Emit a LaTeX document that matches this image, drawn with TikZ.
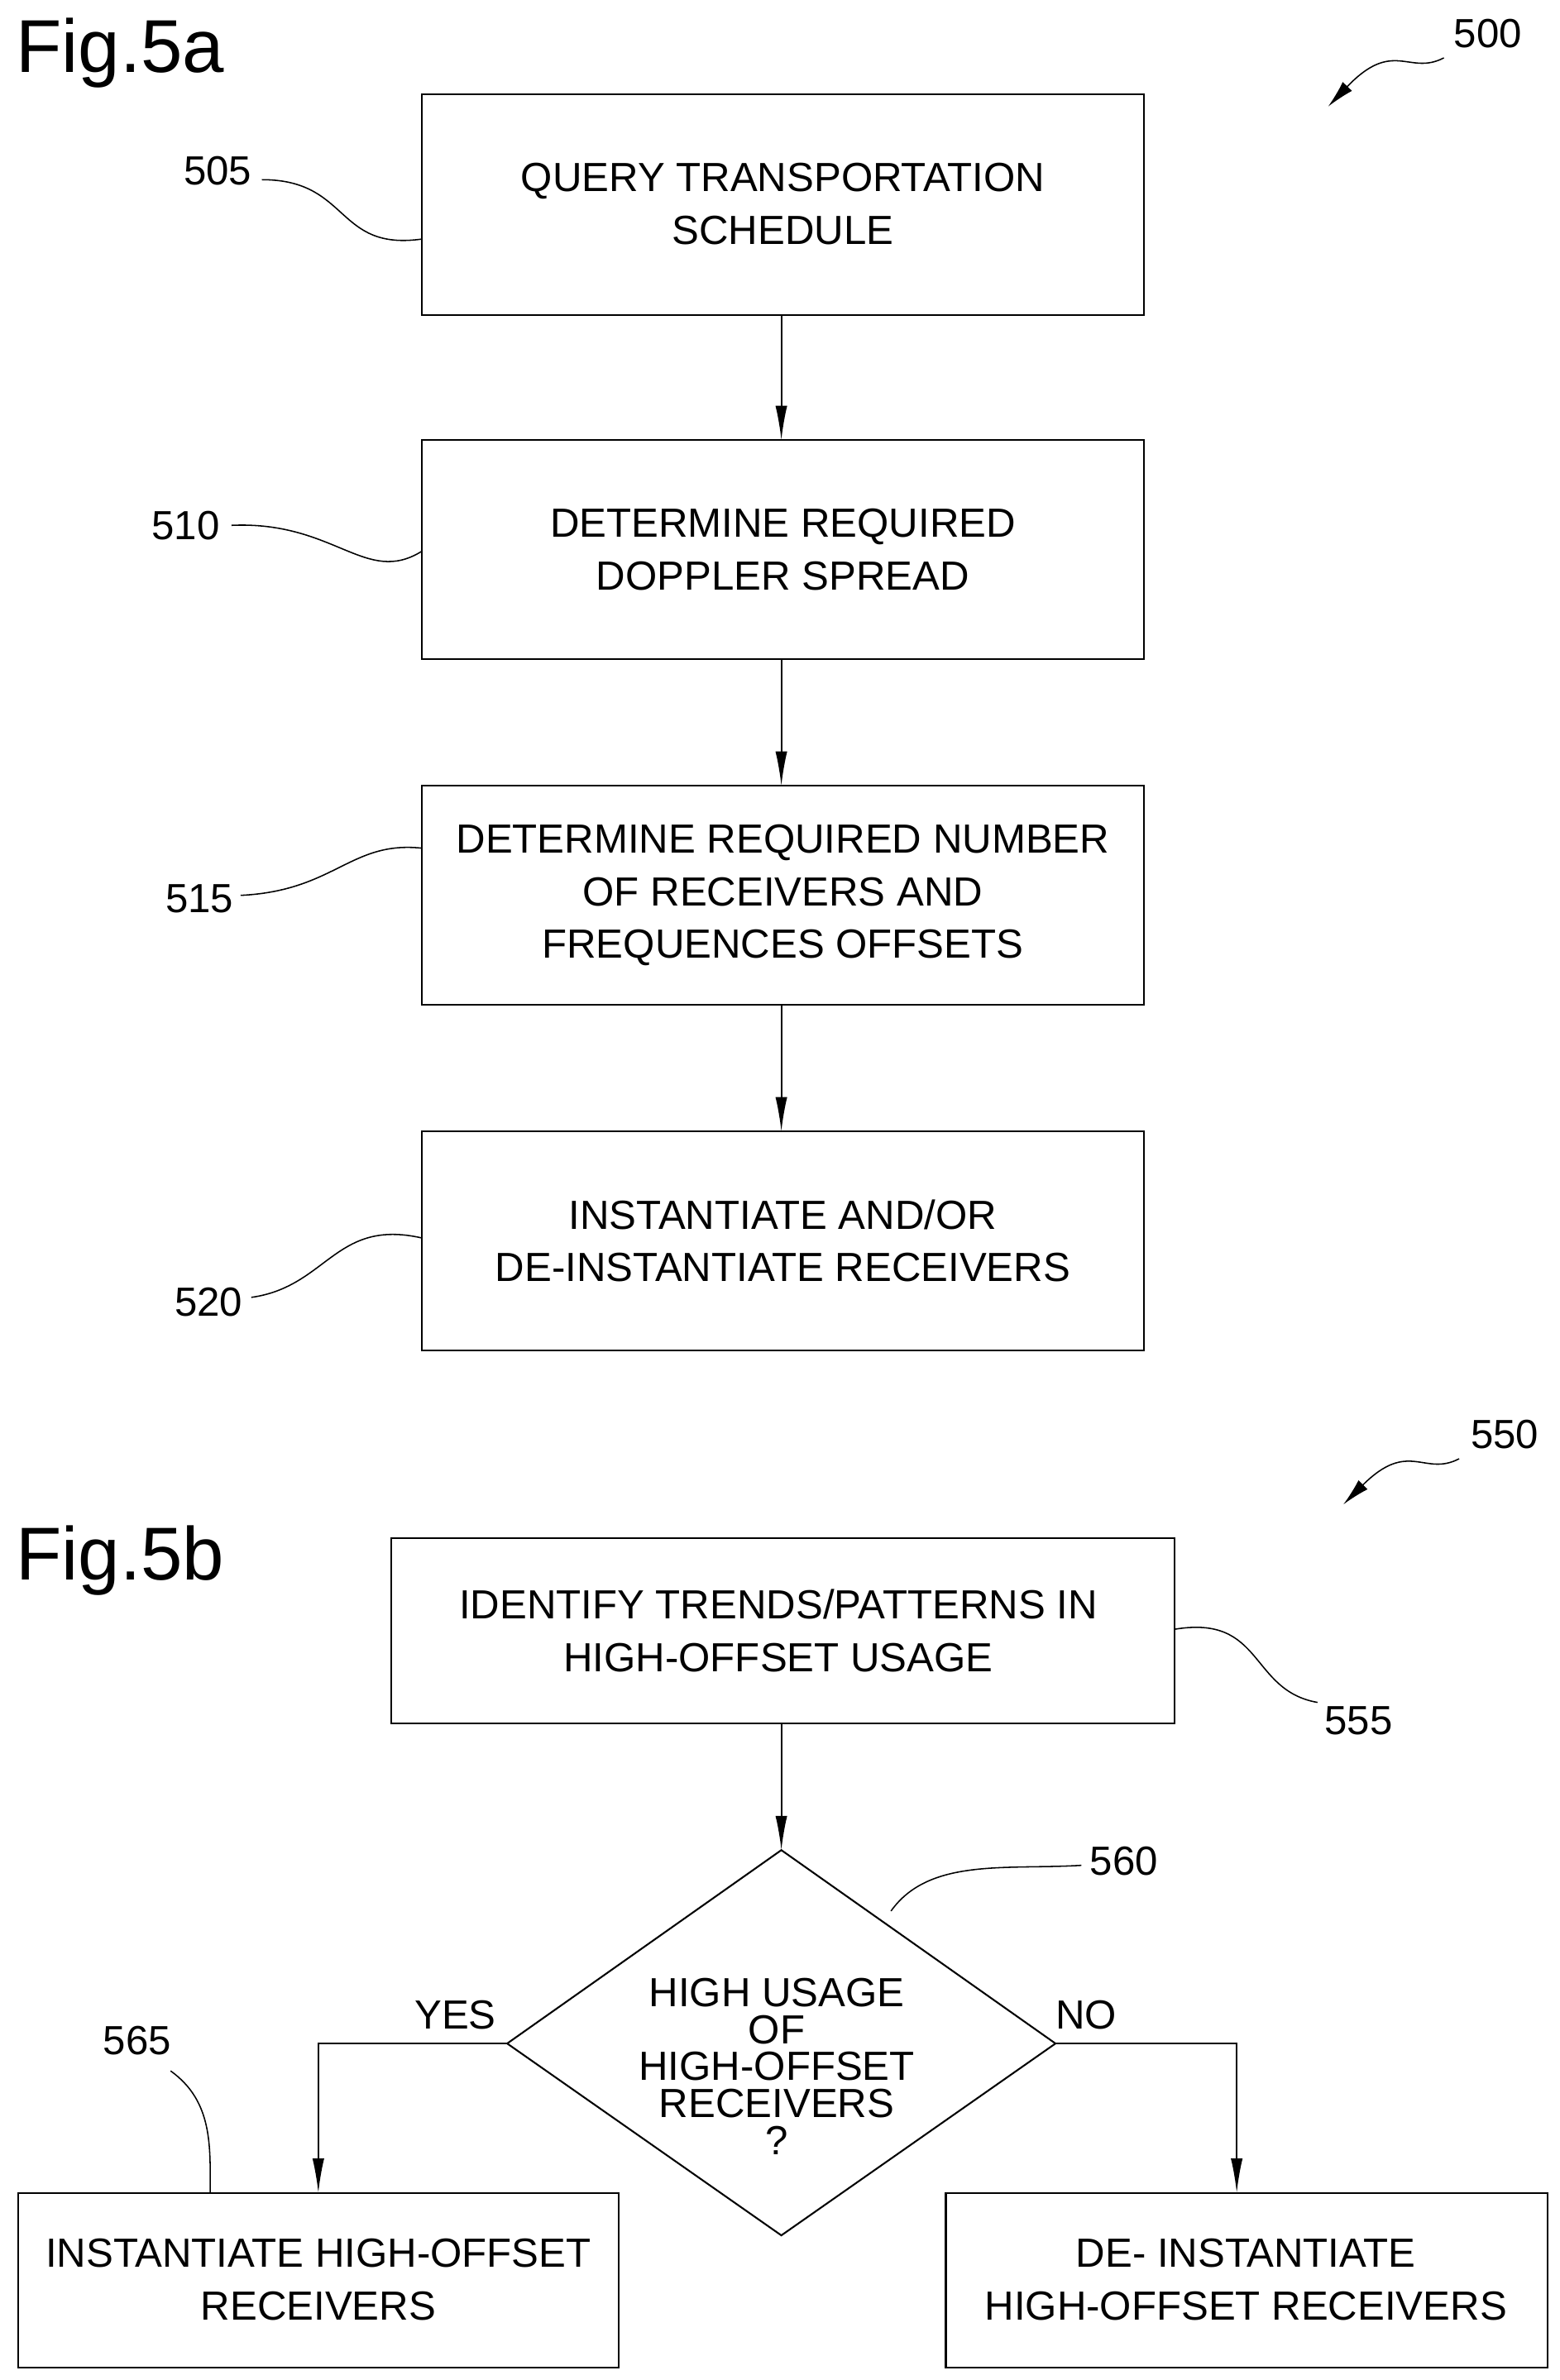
\documentclass[tikz,border=0pt]{standalone}
\usepackage{fontspec}
\setmainfont{Liberation Sans}
\usetikzlibrary{arrows.meta,shapes.geometric}
\begin{document}
\begin{tikzpicture}[x=0.05cm,y=-0.05cm,
  box/.style={draw,line width=1.6pt},
  txt/.style={font=\fontsize{38}{49}\selectfont,align=center},
  lbl/.style={font=\fontsize{38}{40}\selectfont},
  fig/.style={font=\fontsize{70}{72}\selectfont},
  arr/.style={line width=1.4pt,-{Latex[length=32pt,width=11pt]}},
  lead/.style={line width=1.2pt}]
\useasboundingbox (0,0) rectangle (1024,1563);
\node[fig,anchor=west] (f5a) at (8,35) {Fig.5a};
\node[fig,anchor=west] (f5b) at (8,1025) {Fig.5b};
% boxes
\draw[box] (277,62) rectangle (751,207); \node[txt] (b505) at (514,134) {QUERY TRANSPORTATION\\SCHEDULE};
\draw[box] (277,289) rectangle (751,433); \node[txt] (b510) at (514,361) {DETERMINE REQUIRED\\DOPPLER SPREAD};
\draw[box] (277,516) rectangle (751,660); \node[txt] (b515) at (514,588) {DETERMINE REQUIRED NUMBER\\OF RECEIVERS AND\\FREQUENCES OFFSETS};
\draw[box] (277,743) rectangle (751,887); \node[txt] (b520) at (514,815) {INSTANTIATE AND/OR\\DE-INSTANTIATE RECEIVERS};
\draw[box] (257,1010) rectangle (771,1132); \node[txt] (b555) at (511,1071) {IDENTIFY TRENDS/PATTERNS IN\\HIGH-OFFSET USAGE};
\draw[box] (12,1440) rectangle (406,1555); \node[txt] (b565) at (209,1497) {INSTANTIATE HIGH-OFFSET\\RECEIVERS};
\draw[box] (621,1440) rectangle (1016,1555); \node[txt] (b570) at (818,1497) {DE- INSTANTIATE\\HIGH-OFFSET RECEIVERS};
\draw[box] (513,1215) -- (693,1342) -- (513,1468) -- (333,1342) -- cycle;
\node[txt,font=\fontsize{38}{34.5}\selectfont] (d560) at (510,1357) {HIGH USAGE\\OF\\HIGH-OFFSET\\RECEIVERS\\?};
% arrows
\draw[arr] (513,207) -- (513,289);
\draw[arr] (513,433) -- (513,516);
\draw[arr] (513,660) -- (513,743);
\draw[arr] (513,1132) -- (513,1215);
\draw[arr] (333,1342) -- (209,1342) -- (209,1440);
\draw[arr] (693,1342) -- (812,1342) -- (812,1440);
\node[lbl] (yes) at (299,1323) {YES};
\node[lbl] (no) at (713,1323) {NO};
% labels
\node[lbl] (l500) at (977,22) {500};
\draw[lead,-{Latex[length=26pt,width=12pt]}] (948,38) .. controls (925,50) and (915,25) .. (872,70);
\node[lbl] (l550) at (988,942) {550};
\draw[lead,-{Latex[length=26pt,width=12pt]}] (958,958) .. controls (935,970) and (925,945) .. (882,988);
\node[lbl] (l505) at (143,112) {505};
\draw[lead] (172,118) .. controls (230,118) and (220,165) .. (277,157);
\node[lbl] (l510) at (122,345) {510};
\draw[lead] (152,345) .. controls (220,342) and (240,385) .. (277,362);
\node[lbl] (l515) at (131,590) {515};
\draw[lead] (158,588) .. controls (220,585) and (230,552) .. (277,557);
\node[lbl] (l520) at (137,855) {520};
\draw[lead] (165,852) .. controls (215,845) and (220,800) .. (277,813);
\node[lbl] (l555) at (892,1130) {555};
\draw[lead] (771,1070) .. controls (830,1060) and (820,1110) .. (865,1118);
\node[lbl] (l560) at (738,1222) {560};
\draw[lead] (585,1255) .. controls (610,1220) and (660,1228) .. (710,1225);
\node[lbl] (l565) at (90,1340) {565};
\draw[lead] (112,1360) .. controls (140,1380) and (138,1410) .. (138,1440);
\end{tikzpicture}
\end{document}
